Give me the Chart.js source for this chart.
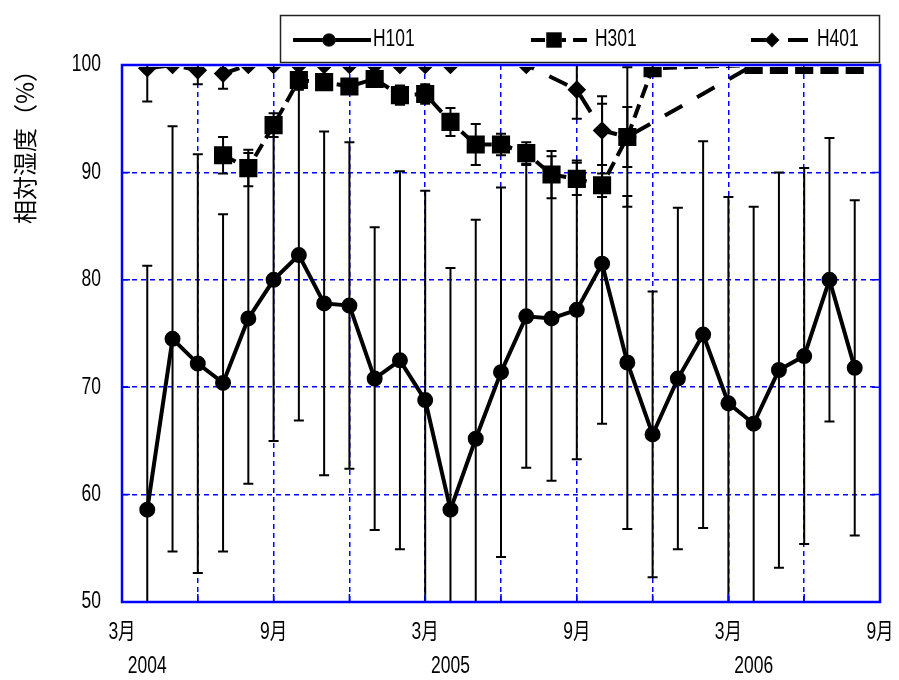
<!DOCTYPE html>
<html>
<head>
<meta charset="utf-8">
<script src="https://cdn.jsdelivr.net/npm/chart.js@4.4.0/dist/chart.umd.min.js"></script>
<style>
  body { margin: 0; background: #fff; }
  #wrap { width: 899px; height: 680px; position: relative; }
</style>
</head>
<body>
<div id="wrap"><canvas id="rhChart"></canvas></div>
<script>
// x = months counted from 3月 2004 (0); data points run Apr 2004 .. Aug 2006
const monthIdx = [1, 2, 3, 4, 5, 6, 7, 8, 9, 10, 11, 12, 13, 14, 15, 16, 17, 18, 19, 20, 21, 22, 23, 24, 25, 26, 27, 28, 29];
const monthTicks = ['3月', '9月', '3月', '9月', '3月', '9月'];
const yearLabels = ['2004', '2005', '2006'];
const yearPos = [1, 13, 25];

const h101 = [58.6, 74.5, 72.2, 70.4, 76.4, 80.0, 82.3, 77.8, 77.6, 70.8, 72.5, 68.8, 58.6, 65.2, 71.4,
              76.6, 76.4, 77.2, 81.5, 72.3, 65.6, 70.8, 74.9, 68.5, 66.6, 71.6, 72.9, 80.0, 71.8];
const h101Sd = [22.7, 19.8, 19.5, 15.7, 15.4, 15.0, 15.4, 16.0, 15.2, 14.1, 17.6, 19.5, 22.5, 20.4, 17.2,
                14.1, 15.1, 13.9, 14.9, 15.5, 13.3, 15.9, 18.0, 19.2, 20.2, 18.4, 17.5, 13.2, 15.6];

const h301 = [null, null, null, 91.6, 90.4, 94.4, 98.6, 98.4, 98.0, 98.7, 97.2, 97.3, 94.7, 92.6, 92.6,
              91.8, 89.8, 89.4, 88.8, 93.3, 99.7, null, null, null, 100, 100, 100, 100, 100];
const h301Sd = [null, null, null, 1.7, 1.7, 1.1, 0.5, 0.5, 0.5, 0.5, 0.9, 0.9, 1.3, 1.9, 1.0,
                1.0, 2.2, 1.5, 1.1, 2.8, 0.3, null, null, null, 0, 0, 0, 0, 0];

const h401 = [99.7, 100, 99.5, 99.2, 100, 100, 100, 100, 100, 100, 100, 100, 100, null, null,
              100, null, 97.7, 93.9, 93.3, null, null, null, null, 100, 100, 100, 100, 100];
const h401Sd = [3.1, 0, 1.3, 1.4, 0, 0, 0, 0, 0, 0, 0, 0, 0, null, null,
                0, null, 2.7, 3.2, 6.5, null, null, null, null, 0, 0, 0, 0, 0];

const FONT = '23px "Liberation Sans", "Noto Sans CJK JP", sans-serif';
const BLUE = '#0000ff';
// series are cut just inside the plot frame, as in the original
const CLIP = { left: 0, top: -2, right: 0, bottom: 0 };

function pts(vals) {
    return vals.map(function (v, i) { return { x: monthIdx[i], y: v }; });
}

// the original uses a tall narrow font, so squeeze text horizontally
function narrowText(ctx, text, x, y, align) {
    ctx.save();
    ctx.translate(x, y);
    ctx.scale(0.76, 1);
    ctx.font = FONT;
    ctx.fillStyle = '#000';
    ctx.textAlign = align;
    ctx.textBaseline = 'middle';
    ctx.fillText(text, 0, 0);
    ctx.restore();
}

// solid blue plot frame + short inward tick marks, drawn over the series
const framePlugin = {
    id: 'frame',
    afterDatasetsDraw: function (chart) {
        const a = chart.chartArea, ctx = chart.ctx;
        const xs = chart.scales.x, ys = chart.scales.y;
        ctx.save();
        ctx.strokeStyle = BLUE;
        ctx.lineWidth = 2.5;
        ctx.strokeRect(a.left, a.top, a.right - a.left, a.bottom - a.top);
        ctx.lineWidth = 1.5;
        ctx.beginPath();
        for (let v = 3; v < 30; v += 3) {
            const px = xs.getPixelForValue(v);
            ctx.moveTo(px, a.bottom);
            ctx.lineTo(px, a.bottom - 8);
        }
        for (let v = 60; v < 100; v += 10) {
            const py = ys.getPixelForValue(v);
            ctx.moveTo(a.left, py);
            ctx.lineTo(a.left + 8, py);
            ctx.moveTo(a.right, py);
            ctx.lineTo(a.right - 8, py);
        }
        ctx.stroke();
        ctx.restore();
    }
};

// +/- sd error bars
const errorBarPlugin = {
    id: 'errorBars',
    beforeDatasetsDraw: function (chart) {
        const a = chart.chartArea, ctx = chart.ctx;
        const xs = chart.scales.x, ys = chart.scales.y;
        ctx.save();
        ctx.beginPath();
        ctx.rect(a.left, a.top, a.right - a.left, a.bottom - a.top);
        ctx.clip();
        ctx.strokeStyle = '#000';
        ctx.lineWidth = 2;
        chart.data.datasets.forEach(function (ds) {
            ds.data.forEach(function (p, i) {
                const sd = ds.sd[i];
                if (p.y === null || !sd) return;
                const px = xs.getPixelForValue(p.x);
                const hi = ys.getPixelForValue(p.y + sd);
                const lo = ys.getPixelForValue(p.y - sd);
                ctx.beginPath();
                ctx.moveTo(px, hi);
                ctx.lineTo(px, lo);
                ctx.moveTo(px - 5, hi);
                ctx.lineTo(px + 5, hi);
                ctx.moveTo(px - 5, lo);
                ctx.lineTo(px + 5, lo);
                ctx.stroke();
            });
        });
        ctx.restore();
    }
};

// tick labels, legend box, axis title and year row
const extrasPlugin = {
    id: 'extras',
    afterDraw: function (chart) {
        const ctx = chart.ctx;
        const xs = chart.scales.x, ys = chart.scales.y;

        ys.ticks.forEach(function (t) {
            narrowText(ctx, String(t.value), 101, ys.getPixelForValue(t.value), 'right');
        });
        xs.ticks.forEach(function (t) {
            if (t.value % 6 !== 0) return;
            narrowText(ctx, monthTicks[t.value / 6], xs.getPixelForValue(t.value), 633, 'center');
        });
        yearLabels.forEach(function (t, i) {
            narrowText(ctx, t, xs.getPixelForValue(yearPos[i]), 667, 'center');
        });

        // legend
        ctx.save();
        ctx.fillStyle = '#fff';
        ctx.fillRect(280, 15, 600, 48);
        ctx.strokeStyle = '#222';
        ctx.lineWidth = 1.5;
        ctx.strokeRect(280.5, 15.5, 599, 47);
        const items = [
            { x0: 293, x1: 371, mx: 329, tx: 373 },
            { x0: 531, x1: 591, mx: 554, tx: 595 },
            { x0: 751, x1: 811, mx: 772, tx: 817 }
        ];
        chart.data.datasets.forEach(function (ds, i) {
            const it = items[i], y = 40;
            ctx.save();
            ctx.strokeStyle = '#000';
            ctx.lineWidth = 4;
            ctx.setLineDash(ds.borderDash || []);
            ctx.beginPath();
            ctx.moveTo(it.x0, y);
            ctx.lineTo(it.x1, y);
            ctx.stroke();
            ctx.restore();
            Chart.helpers.drawPoint(ctx, {
                pointStyle: ds.pointStyle, radius: ds.pointRadius, rotation: 0, borderWidth: 1
            }, it.mx, y);
            ctx.fillStyle = '#000';
            ctx.fill();
            narrowText(ctx, ds.label, it.tx, y, 'left');
        });
        ctx.restore();

        // y axis title
        ctx.save();
        ctx.translate(25, 141);
        ctx.rotate(-Math.PI / 2);
        ctx.font = '24px "Noto Sans CJK JP", sans-serif';
        ctx.fillStyle = '#000';
        ctx.textAlign = 'center';
        ctx.textBaseline = 'middle';
        ctx.fillText('相対湿度（%）', 0, 0);
        ctx.restore();
    }
};

const ctx = document.getElementById('rhChart').getContext('2d');
const rhChart = new Chart(ctx, {
    type: 'line',
    data: {
        datasets: [
            {
                label: 'H101',
                data: pts(h101),
                sd: h101Sd,
                borderColor: '#000',
                backgroundColor: '#000',
                borderWidth: 4,
                pointStyle: 'circle',
                pointRadius: 6,
                pointBackgroundColor: '#000',
                pointBorderColor: '#000',
                spanGaps: true,
                clip: CLIP,
                order: 0
            },
            {
                label: 'H301',
                data: pts(h301),
                sd: h301Sd,
                borderColor: '#000',
                backgroundColor: '#000',
                borderWidth: 4,
                borderDash: [14, 7],
                pointStyle: 'rect',
                pointRadius: 10,
                pointBackgroundColor: '#000',
                pointBorderColor: '#000',
                spanGaps: true,
                clip: CLIP,
                order: 1
            },
            {
                label: 'H401',
                data: pts(h401),
                sd: h401Sd,
                borderColor: '#000',
                backgroundColor: '#000',
                borderWidth: 4,
                borderDash: [20, 17],
                pointStyle: 'rectRot',
                pointRadius: 6.5,
                pointBackgroundColor: '#000',
                pointBorderColor: '#000',
                spanGaps: true,
                clip: CLIP,
                order: 2
            }
        ]
    },
    options: {
        responsive: true,
        maintainAspectRatio: false,
        animation: false,
        layout: { padding: { top: 65, right: 19, left: 0, bottom: 0 } },
        plugins: {
            legend: { display: false },
            tooltip: { enabled: false }
        },
        scales: {
            x: {
                type: 'linear',
                min: 0,
                max: 30,
                afterFit: function (scale) {
                    scale.height = 78;
                    scale.paddingLeft = 0;
                    scale.paddingRight = 0;
                },
                ticks: { stepSize: 3, autoSkip: false, maxRotation: 0, display: false },
                grid: { color: BLUE, lineWidth: 1.5, drawTicks: false },
                border: { color: BLUE, width: 2, dash: [5, 4] }
            },
            y: {
                min: 50,
                max: 100,
                afterFit: function (scale) {
                    scale.width = 122;
                    scale.paddingTop = 0;
                    scale.paddingBottom = 0;
                },
                ticks: { stepSize: 10, display: false },
                grid: { color: BLUE, lineWidth: 1.5, drawTicks: false },
                border: { color: BLUE, width: 2, dash: [5, 4] }
            }
        }
    },
    plugins: [framePlugin, errorBarPlugin, extrasPlugin]
});
</script>
</body>
</html>
